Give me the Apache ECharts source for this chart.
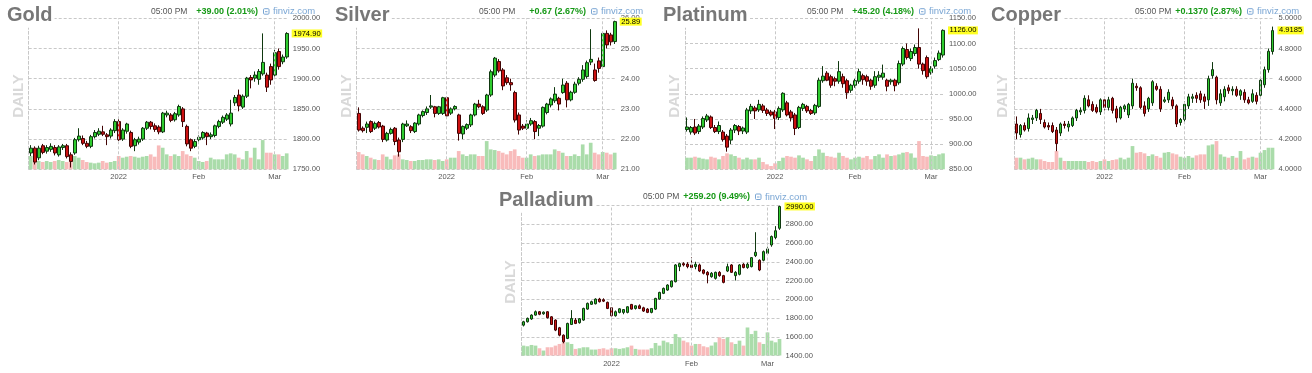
<!DOCTYPE html>
<html><head><meta charset="utf-8">
<script src="https://cdn.jsdelivr.net/npm/echarts@6/dist/echarts.min.js"></script>
<style>html,body{margin:0;padding:0;background:#fff}#c{width:1312px;height:373px}</style>
</head><body><div id="c"></div>
<script>
// ---------- DATA ----------
const dates = [
'2021-12-01','2021-12-02','2021-12-03','2021-12-06','2021-12-07','2021-12-08','2021-12-09','2021-12-10','2021-12-13','2021-12-14','2021-12-15','2021-12-16','2021-12-17','2021-12-20','2021-12-21','2021-12-22','2021-12-23','2021-12-27','2021-12-28','2021-12-29','2021-12-30','2021-12-31',
'2022-01-03','2022-01-04','2022-01-05','2022-01-06','2022-01-07','2022-01-10','2022-01-11','2022-01-12','2022-01-13','2022-01-14','2022-01-18','2022-01-19','2022-01-20','2022-01-21','2022-01-24','2022-01-25','2022-01-26','2022-01-27','2022-01-28','2022-01-31',
'2022-02-01','2022-02-02','2022-02-03','2022-02-04','2022-02-07','2022-02-08','2022-02-09','2022-02-10','2022-02-11','2022-02-14','2022-02-15','2022-02-16','2022-02-17','2022-02-18','2022-02-22','2022-02-23','2022-02-24','2022-02-25','2022-02-28',
'2022-03-01','2022-03-02','2022-03-03','2022-03-04'];
const tickDates = ['2022-01-03','2022-02-01','2022-03-01'];
const tickLabels = ['2022','Feb','Mar'];

const names = ['Gold','Silver','Platinum','Copper','Palladium'];
const timeText = '05:00 PM';
const changeTexts = ['+39.00 (2.01%)','+0.67 (2.67%)','+45.20 (4.18%)','+0.1370 (2.87%)','+259.20 (9.49%)'];

// rows: [open, high, low, close]
const goldOHLC = [
[1777,1790,1772,1785],[1785,1788,1758,1762],[1769,1789,1765,1785],[1789,1792,1775,1778],[1780,1790,1776,1786],
[1783,1793,1779,1788],[1786,1790,1773,1777],[1774,1790,1771,1787],[1786,1792,1782,1789],[1789,1792,1768,1771],
[1774,1778,1753,1763],[1777,1802,1774,1799],[1799,1818,1796,1805],[1801,1806,1790,1793],[1793,1797,1785,1788],
[1788,1807,1785,1804],[1804,1815,1801,1811],[1808,1818,1805,1813],[1812,1822,1805,1808],[1807,1810,1790,1804],
[1805,1818,1801,1815],[1814,1833,1810,1829],[1829,1833,1797,1799],[1800,1818,1797,1815],[1813,1827,1809,1825],
[1811,1814,1785,1788],[1789,1802,1780,1799],[1795,1804,1791,1800],[1800,1820,1797,1818],[1818,1830,1815,1828],
[1828,1830,1816,1821],[1822,1826,1812,1816],[1820,1823,1808,1812],[1812,1845,1810,1843],[1840,1847,1836,1843],
[1840,1843,1828,1831],[1832,1845,1829,1842],[1840,1857,1837,1854],[1850,1853,1820,1829],[1821,1824,1788,1792],
[1799,1801,1780,1785],[1788,1800,1785,1796],[1799,1806,1795,1803],[1802,1813,1799,1811],[1810,1812,1790,1804],
[1804,1811,1800,1807],[1806,1824,1803,1822],[1821,1832,1818,1829],[1828,1839,1825,1836],[1833,1843,1830,1840],
[1825,1865,1821,1843],[1860,1873,1855,1869],[1873,1882,1846,1855],[1853,1874,1850,1871],[1871,1903,1868,1901],
[1902,1906,1884,1898],[1901,1912,1895,1906],[1899,1916,1890,1912],[1908,1975,1905,1927],[1906,1910,1878,1886],
[1920,1925,1890,1898],[1906,1948,1902,1943],[1945,1950,1915,1920],[1928,1940,1924,1935.9],[1936,1977,1933,1974.9]];
const goldVol = [40,35,25,22,25,22,25,28,25,22,35,40,35,28,22,20,18,20,25,20,22,25,40,35,38,40,38,35,38,40,45,38,72,65,45,40,45,40,55,45,40,35,25,22,25,35,30,30,30,45,48,45,35,30,55,35,65,30,88,50,50,45,45,40,48];

const silverOHLC = [
[22.85,23.05,22.25,22.30],[22.36,22.42,22.22,22.28],[22.39,22.58,22.20,22.50],[22.58,22.62,22.20,22.25],[22.36,22.58,22.30,22.52],
[22.55,22.60,22.35,22.40],[22.43,22.47,21.90,21.99],[21.97,22.24,21.92,22.19],[22.19,22.38,22.15,22.32],[22.36,22.40,21.80,21.92],
[21.97,22.05,21.42,21.58],[21.99,22.54,21.90,22.50],[22.44,22.62,22.40,22.50],[22.41,22.46,22.20,22.28],[22.25,22.56,22.20,22.53],
[22.50,22.84,22.45,22.80],[22.78,22.95,22.72,22.91],[22.88,23.08,22.80,23.00],[23.06,23.46,23.00,23.10],[23.07,23.10,22.72,22.85],
[22.85,23.10,22.80,23.07],[22.85,23.40,22.80,23.37],[23.37,23.40,22.68,22.77],[22.86,23.05,22.80,23.00],[23.00,23.12,22.95,23.08],
[22.80,22.84,21.95,22.19],[22.17,22.45,22.00,22.42],[22.36,22.52,22.30,22.48],[22.47,22.84,22.40,22.80],[22.80,23.20,22.75,23.16],
[23.16,23.30,23.02,23.07],[23.07,23.12,22.80,22.85],[22.96,23.50,22.90,23.46],[23.46,24.30,23.40,24.23],[24.12,24.72,24.05,24.68],
[24.57,24.65,24.20,24.26],[24.29,24.35,23.62,23.76],[24.03,24.12,23.80,23.87],[23.87,24.00,23.60,23.80],[23.54,23.60,22.55,22.63],
[22.80,22.88,22.15,22.30],[22.43,22.50,22.30,22.36],[22.36,22.62,22.30,22.50],[22.50,22.70,22.44,22.61],[22.58,22.63,22.00,22.25],
[22.36,22.50,22.10,22.45],[22.43,23.08,22.38,23.05],[22.88,23.20,22.82,23.16],[23.13,23.38,23.05,23.33],[23.27,23.72,23.20,23.49],
[23.35,23.40,22.95,23.16],[23.54,24.00,23.50,23.79],[23.85,23.92,23.05,23.30],[23.30,23.60,23.25,23.55],[23.55,23.90,23.50,23.82],
[23.85,24.05,23.78,23.98],[23.98,24.45,23.90,24.29],[24.07,24.60,24.00,24.53],[24.55,25.64,24.45,24.64],[24.29,24.50,23.90,23.94],
[24.59,24.70,24.20,24.34],[24.40,25.55,24.35,25.50],[25.50,25.60,25.00,25.12],[25.45,25.52,25.10,25.22],[25.23,25.92,25.15,25.89]];
const silverVol = [52,45,40,35,30,28,45,38,30,42,45,30,28,25,25,28,28,30,30,28,30,25,30,35,35,55,45,40,45,45,40,40,85,60,58,55,50,45,55,60,40,35,35,45,40,42,45,45,45,60,55,50,40,40,45,40,75,45,80,50,45,52,50,45,50];

const platinumOHLC = [
[929,953,925,934],[924,936,919,933],[934,950,918,922],[925,940,920,936],[934,955,930,951],
[948,960,944,956],[954,957,930,933],[933,938,922,925],[925,945,920,937],[924,928,905,909],
[916,920,885,894],[908,932,900,928],[928,940,922,937],[935,938,918,926],[926,935,920,932],
[924,972,920,968],[966,980,960,975],[972,976,950,966],[968,988,964,979],[976,980,962,967],
[968,972,956,961],[964,968,955,958],[964,968,930,951],[953,975,948,971],[968,1003,964,1001],
[982,986,955,958],[964,968,945,952],[958,962,918,931],[933,976,930,973],[971,982,966,979],
[975,978,962,966],[967,970,958,961],[962,980,958,977],[975,1032,972,1027],[1026,1055,1022,1035],
[1041,1045,1025,1027],[1034,1038,1012,1017],[1030,1034,1015,1025],[1025,1065,1020,1044],[1034,1040,1012,1020],
[1026,1030,990,1002],[1007,1020,1002,1017],[1017,1030,1012,1026],[1025,1050,1020,1044],[1036,1040,1018,1028],
[1034,1038,1016,1025],[1027,1030,1008,1015],[1017,1045,1012,1034],[1033,1045,1025,1037],[1033,1058,1028,1041],
[1027,1030,1005,1015],[1024,1030,1018,1027],[1027,1030,1005,1016],[1022,1066,1018,1060],[1059,1094,1055,1090],
[1088,1100,1068,1072],[1070,1090,1065,1084],[1080,1098,1075,1092],[1092,1130,1050,1059],[1059,1062,1038,1046],
[1072,1076,1030,1034],[1042,1055,1038,1050],[1055,1072,1050,1066],[1068,1086,1065,1080.8],[1077,1128,1072,1126]];
const platinumVol = [35,35,38,35,32,30,38,35,30,40,48,45,40,35,30,35,30,30,35,22,15,10,18,25,35,40,38,35,42,35,30,25,40,60,50,40,38,35,50,40,35,30,35,38,35,40,30,40,45,35,45,40,42,45,50,52,48,35,85,40,38,42,40,45,48];

const copperOHLC = [
[4.30,4.35,4.20,4.24],[4.23,4.30,4.21,4.29],[4.29,4.31,4.25,4.26],[4.27,4.37,4.25,4.34],[4.33,4.36,4.30,4.34],
[4.34,4.40,4.32,4.39],[4.37,4.40,4.30,4.33],[4.31,4.33,4.27,4.28],[4.29,4.31,4.26,4.28],[4.29,4.31,4.24,4.25],
[4.26,4.28,4.12,4.17],[4.24,4.31,4.22,4.30],[4.30,4.32,4.27,4.29],[4.28,4.32,4.25,4.30],[4.29,4.35,4.28,4.34],
[4.34,4.40,4.32,4.39],[4.38,4.41,4.36,4.39],[4.39,4.49,4.37,4.47],[4.46,4.49,4.41,4.42],[4.43,4.45,4.38,4.39],
[4.41,4.43,4.37,4.38],[4.38,4.47,4.36,4.46],[4.46,4.48,4.39,4.41],[4.41,4.48,4.39,4.46],[4.47,4.48,4.37,4.39],
[4.40,4.42,4.31,4.34],[4.34,4.42,4.33,4.41],[4.40,4.43,4.38,4.42],[4.36,4.44,4.34,4.43],[4.42,4.60,4.40,4.57],
[4.55,4.57,4.52,4.54],[4.54,4.55,4.40,4.41],[4.42,4.45,4.35,4.37],[4.40,4.48,4.38,4.47],[4.44,4.59,4.42,4.58],
[4.55,4.57,4.52,4.53],[4.53,4.55,4.38,4.40],[4.45,4.48,4.44,4.46],[4.46,4.53,4.44,4.51],[4.46,4.48,4.40,4.42],
[4.42,4.43,4.28,4.30],[4.31,4.34,4.29,4.33],[4.33,4.45,4.31,4.43],[4.42,4.50,4.40,4.48],[4.47,4.50,4.44,4.48],
[4.49,4.51,4.44,4.47],[4.50,4.52,4.44,4.46],[4.48,4.50,4.40,4.45],[4.46,4.62,4.42,4.60],[4.62,4.71,4.60,4.66],
[4.61,4.62,4.43,4.46],[4.44,4.53,4.42,4.50],[4.48,4.55,4.45,4.53],[4.54,4.56,4.50,4.52],[4.52,4.55,4.49,4.53],
[4.53,4.55,4.48,4.49],[4.49,4.53,4.46,4.52],[4.51,4.53,4.44,4.46],[4.46,4.48,4.43,4.44],[4.45,4.53,4.44,4.50],
[4.49,4.51,4.43,4.45],[4.49,4.61,4.48,4.59],[4.56,4.68,4.54,4.66],[4.66,4.80,4.64,4.7815],[4.78,4.945,4.76,4.9185]];
const copperVol = [35,35,30,32,35,30,30,25,22,22,55,35,25,25,25,25,25,25,22,25,22,25,30,25,28,30,35,30,35,70,50,52,48,40,45,40,35,50,52,48,45,38,35,40,35,42,45,45,72,75,85,45,38,35,40,35,55,30,35,38,35,50,58,65,65];

const palladiumOHLC = [
[1724,1770,1710,1760],[1760,1805,1752,1796],[1790,1840,1780,1831],[1831,1880,1825,1867],[1867,1875,1830,1840],
[1845,1870,1835,1862],[1867,1872,1795,1803],[1813,1820,1725,1731],[1778,1785,1660,1671],[1696,1705,1605,1617],
[1617,1625,1530,1546],[1582,1750,1575,1742],[1731,1884,1725,1795],[1778,1800,1735,1742],[1750,1800,1740,1792],
[1778,1910,1770,1902],[1895,1965,1888,1956],[1946,1985,1940,1974],[1952,2010,1945,2002],[2002,2015,1965,1974],
[1995,2010,1970,1980],[1967,1975,1895,1902],[1909,1915,1818,1824],[1824,1880,1815,1867],[1860,1905,1850,1898],
[1860,1895,1840,1890],[1860,1925,1850,1920],[1945,1950,1890,1895],[1902,1935,1890,1930],[1930,1945,1895,1902],
[1909,1920,1865,1874],[1895,1905,1852,1860],[1860,1905,1850,1902],[1895,2015,1885,2009],[2002,2080,1995,2073],
[2063,2125,2055,2116],[2098,2160,2090,2152],[2134,2200,2125,2195],[2187,2375,2180,2366],[2348,2390,2300,2380],
[2380,2395,2350,2366],[2375,2395,2330,2348],[2366,2450,2330,2338],[2348,2400,2320,2373],[2366,2380,2290,2301],
[2312,2320,2265,2277],[2287,2300,2170,2259],[2241,2290,2230,2277],[2223,2295,2210,2287],[2287,2300,2240,2252],
[2252,2260,2170,2180],[2301,2380,2290,2348],[2366,2375,2280,2287],[2252,2300,2200,2287],[2266,2375,2255,2366],
[2373,2385,2330,2338],[2338,2390,2325,2373],[2348,2450,2340,2444],[2465,2715,2450,2501],[2416,2425,2300,2312],
[2416,2520,2405,2508],[2490,2560,2480,2537],[2579,2680,2560,2669],[2658,2780,2640,2730.8],[2757,2998,2740,2990]];
const palladiumVol = [30,28,32,30,22,15,25,25,30,35,40,40,35,20,22,25,25,18,18,20,22,18,22,22,20,22,25,30,20,18,18,18,22,38,30,45,40,35,65,55,45,40,30,35,35,28,25,30,40,55,50,55,40,35,45,30,85,65,75,40,35,70,45,40,50];

const yMins = [1750, 21, 850, 4.0, 1400];
const yMaxs = [2000, 26, 1150, 5.0, 3000];
const ySteps = [50, 1, 50, 0.2, 200];
const yDecimals = [2, 2, 2, 4, 2];
const volAxisMax = 455;

const allOHLC = [goldOHLC, silverOHLC, platinumOHLC, copperOHLC, palladiumOHLC];
const allVol = [goldVol, silverVol, platinumVol, copperVol, palladiumVol];

// ---------- LAYOUT / STYLE ----------
const FONT = '"Liberation Sans", Arial, Helvetica, sans-serif';
const layout = [
  {x0:0,   y0:0,   left:28.7,  top:18.3,  h:151},
  {x0:328, y0:0,   left:356.7, top:18.3,  h:151},
  {x0:656, y0:0,   left:685,   top:18.3,  h:151},
  {x0:984, y0:0,   left:1014.5,top:18.3,  h:151},
  {x0:492, y0:185, left:521.5, top:205.5, h:150}
];
const PLOT_W = 260;
const UP = '#2ecc2e', DOWN = '#cc1111', UP_B = '#0f380f', DOWN_B = '#420404';
const VUP = '#aadcaa', VDOWN = '#f8bbbb';
const GRID_C = '#c8c8c8';
const DASH = [3, 2];

const grid = [], xAxis = [], yAxis = [], series = [], graphic = [];

names.forEach((name, i) => {
  const L = layout[i];
  const ohlc = allOHLC[i];
  const vol = allVol[i];
  const dec = yDecimals[i];
  const last = ohlc[ohlc.length - 1][3];
  grid.push({left: L.left, top: L.top, width: PLOT_W, height: L.h, containLabel: false});
  xAxis.push({
    type: 'category', gridIndex: i, data: dates, boundaryGap: true,
    axisLine: {show: false}, axisTick: {show: false}, splitLine: {show: false},
    axisLabel: {
      interval: (idx, v) => tickDates.indexOf(v) >= 0,
      formatter: v => tickLabels[tickDates.indexOf(v)] || '',
      fontSize: 7.5, color: '#555', margin: 4, fontFamily: FONT
    }
  });
  yAxis.push({
    type: 'value', gridIndex: i, position: 'right', min: yMins[i], max: yMaxs[i], interval: ySteps[i],
    axisLine: {show: false}, axisTick: {show: false},
    axisLabel: {fontSize: 7.6, color: '#555', margin: 4, fontFamily: FONT, formatter: v => v.toFixed(dec)},
    splitLine: {show: true, lineStyle: {color: GRID_C, type: DASH, width: 1}}
  });
  yAxis.push({
    type: 'value', gridIndex: i, position: 'left', min: 0, max: volAxisMax,
    axisLine: {show: true, lineStyle: {color: GRID_C, type: DASH, width: 1}},
    axisTick: {show: false}, axisLabel: {show: false}, splitLine: {show: false}
  });
  series.push({
    type: 'bar', xAxisIndex: i, yAxisIndex: 2 * i + 1, data: vol, barCategoryGap: '8%',
    silent: true, animation: false, z: 1,
    itemStyle: {color: p => (ohlc[p.dataIndex][3] >= ohlc[p.dataIndex][0] ? VUP : VDOWN)},
    markLine: {
      symbol: 'none', silent: true, animation: false, label: {show: false},
      lineStyle: {color: GRID_C, type: DASH, width: 1},
      data: tickDates.map(d => ({xAxis: d}))
    }
  });
  series.push({
    type: 'candlestick', xAxisIndex: i, yAxisIndex: 2 * i, barWidth: 3.2, animation: false, z: 3,
    data: ohlc.map(r => [r[0], r[3], r[2], r[1]]),
    itemStyle: {color: UP, color0: DOWN, borderColor: UP_B, borderColor0: DOWN_B, borderWidth: 1},
    markLine: {
      symbol: 'none', silent: true, animation: false,
      lineStyle: {color: 'rgba(0,0,0,0)', width: 1, type: 'solid'},
      label: {
        show: true, position: 'end', distance: 3,
        formatter: () => last.toFixed(dec),
        backgroundColor: '#ffff22', color: '#000', fontSize: 7.6, fontFamily: FONT,
        padding: [1, 1.5, 0, 1.5], lineHeight: 7
      },
      emphasis: {disabled: true},
      data: [{yAxis: last}]
    }
  });

  const hy = L.y0 + (i === 4 ? 12 : 11.7);
  graphic.push({type: 'text', z: 100, x: L.x0 + 5, y: L.y0 + 15.7,
    style: {text: name, font: 'bold 20px ' + FONT, fill: '#777', textAlign: 'left', align: 'left',
      textVerticalAlign: 'middle', verticalAlign: 'middle', backgroundColor: '#fff', padding: [2, 2, 2, 2]}});
  graphic.push({type: 'text', z: 100, x: L.x0 + 18.5, y: L.y0 + (i === 4 ? 97 : 96), rotation: Math.PI / 2,
    style: {text: 'DAILY', font: 'bold 15px ' + FONT, fill: '#d9d9d9', textAlign: 'center', align: 'center',
      textVerticalAlign: 'middle', verticalAlign: 'middle'}});
  graphic.push({type: 'text', z: 100, x: L.x0 + 151, y: hy,
    style: {text: timeText, font: '8.5px ' + FONT, fill: '#555', textAlign: 'left', align: 'left',
      textVerticalAlign: 'middle', verticalAlign: 'middle'}});
  graphic.push({type: 'text', z: 100, x: L.x0 + 258, y: hy,
    style: {text: changeTexts[i], font: 'bold 9px ' + FONT, fill: '#169916', textAlign: 'right', align: 'right',
      textVerticalAlign: 'middle', verticalAlign: 'middle', backgroundColor: '#fff'}});
  graphic.push({type: 'rect', z: 100, shape: {x: L.x0 + 263.5, y: hy - 3, width: 5.5, height: 5.5, r: 1},
    style: {fill: 'none', stroke: '#7aa6d4', lineWidth: 1}});
  graphic.push({type: 'line', z: 100, shape: {x1: L.x0 + 265, y1: hy, x2: L.x0 + 267.5, y2: hy},
    style: {stroke: '#7aa6d4', lineWidth: 1}});
  graphic.push({type: 'text', z: 100, x: L.x0 + 273, y: hy,
    style: {text: 'finviz.com', font: '9.5px ' + FONT, fill: '#7aa6d4', textAlign: 'left', align: 'left',
      textVerticalAlign: 'middle', verticalAlign: 'middle'}});
});

const chart = echarts.init(document.getElementById('c'), null, {renderer: 'canvas'});
chart.setOption({
  backgroundColor: '#fff',
  animation: false,
  grid, xAxis, yAxis, series, graphic
});
</script>
</body></html>
